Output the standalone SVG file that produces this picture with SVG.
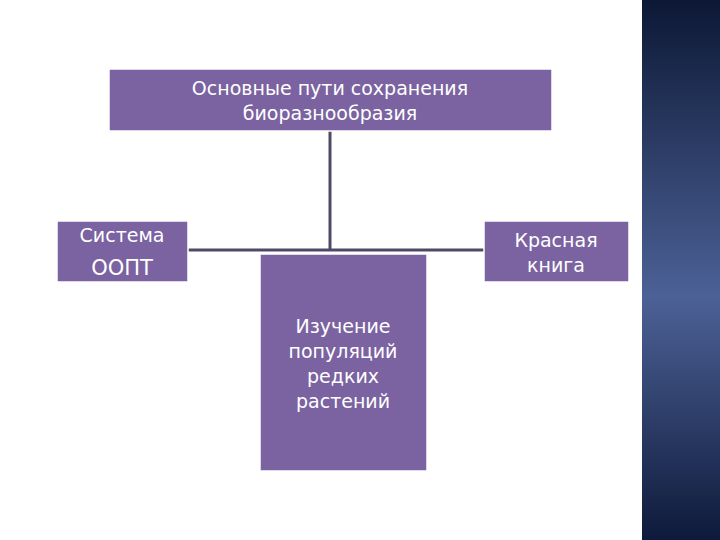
<svg xmlns="http://www.w3.org/2000/svg" width="720" height="540" viewBox="0 0 720 540">
<defs>
<linearGradient id="strip" x1="0" y1="0" x2="0" y2="1">
<stop offset="0" stop-color="#0c1835"/>
<stop offset="0.55" stop-color="#4c6196"/>
<stop offset="1" stop-color="#0e1a3a"/>
</linearGradient>
</defs>
<style>
.box{fill:#7b63a1;stroke:#ffffff;stroke-width:1.5}
.t{font-family:"DejaVu Sans",sans-serif;fill:#ffffff;text-anchor:middle}
.c{stroke:#4e4a66;stroke-width:3;fill:none}
</style>
<rect width="720" height="540" fill="#ffffff"/>
<rect x="642" y="0" width="78" height="540" fill="url(#strip)"/>
<g id="connectors">
<line class="c" x1="330" y1="131" x2="330" y2="250"/>
<line class="c" x1="188" y1="250" x2="484" y2="250"/>
</g>
<g id="n1"><rect class="box" x="109" y="69" width="443" height="62"/>
<text class="t" font-size="19" x="330" y="95">Основные пути сохранения</text>
<text class="t" font-size="19" x="330" y="120">биоразнообразия</text></g>
<g id="n2"><rect class="box" x="57" y="221" width="131" height="61"/>
<text class="t" font-size="19" x="122" y="242">Система</text>
<text class="t" font-size="21" x="122" y="275">ООПТ</text></g>
<g id="n3"><rect class="box" x="484" y="221" width="145" height="61"/>
<text class="t" font-size="19" x="556" y="247">Красная</text>
<text class="t" font-size="19" x="556" y="272">книга</text></g>
<g id="n4"><rect class="box" x="260" y="254" width="167" height="217"/>
<text class="t" font-size="19" x="343" y="333">Изучение</text>
<text class="t" font-size="19" x="343" y="358">популяций</text>
<text class="t" font-size="19" x="343" y="383">редких</text>
<text class="t" font-size="19" x="343" y="408">растений</text></g>
</svg>
